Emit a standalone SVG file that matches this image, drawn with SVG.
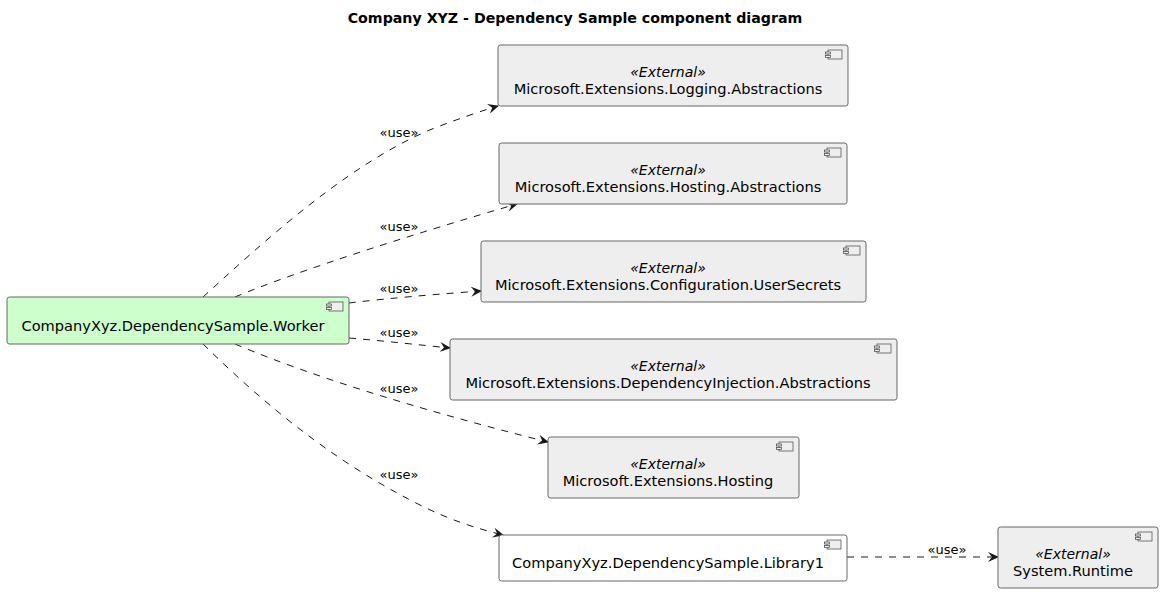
<svg xmlns="http://www.w3.org/2000/svg" width="1163" height="593" viewBox="0 0 1163 593">
<defs>
<style>
.box{fill:#EEEEEE;stroke:#666666;stroke-width:1;}
.ic{fill:#EEEEEE;stroke:#444444;stroke-width:0.7;}
.t{font-family:"DejaVu Sans",sans-serif;font-size:14.6px;fill:#000;text-anchor:middle;}
.st{font-family:"DejaVu Sans",sans-serif;font-size:14px;font-style:italic;fill:#000;text-anchor:middle;}
.lbl{font-family:"DejaVu Sans",sans-serif;font-size:13px;fill:#000;text-anchor:middle;}
.e{fill:none;stroke:#181818;stroke-width:1;stroke-dasharray:7,7;}
</style>
<marker id="ah" markerWidth="12" markerHeight="10" refX="10" refY="5" orient="auto" markerUnits="userSpaceOnUse">
<path d="M0,0 L11,5 L0,10 L4,5 Z" fill="#181818"/>
</marker>
<g id="icon"><rect x="0" y="0" width="14" height="9" class="ic"/><rect x="-2.5" y="2" width="5" height="2" class="ic"/><rect x="-2.5" y="5.5" width="5" height="2" class="ic"/></g>
</defs>
<rect width="1163" height="593" fill="#FFFFFF"/>
<text x="575" y="23" font-family="DejaVu Sans, sans-serif" font-size="14.2" font-weight="bold" text-anchor="middle">Company XYZ - Dependency Sample component diagram</text>

<g id="connectors">
<path class="e" d="M203,297 C255,250 345,165 432,129 C458,119 478,112 498,106" marker-end="url(#ah)"/>
<text class="lbl" x="399" y="137">«use»</text>
<path class="e" d="M235,297 C300,270 420,232 517,204" marker-end="url(#ah)"/>
<text class="lbl" x="399" y="231">«use»</text>
<path class="e" d="M349,303 C390,298 440,294 481,291" marker-end="url(#ah)"/>
<text class="lbl" x="399" y="293">«use»</text>
<path class="e" d="M349,338 C385,341 420,345 450,348" marker-end="url(#ah)"/>
<text class="lbl" x="399" y="337">«use»</text>
<path class="e" d="M235,344 C320,380 440,415 548,442" marker-end="url(#ah)"/>
<text class="lbl" x="399" y="393">«use»</text>
<path class="e" d="M203,344 C260,400 330,460 420,505 C450,520 475,528 503,535" marker-end="url(#ah)"/>
<text class="lbl" x="399" y="479">«use»</text>
<path class="e" d="M847,557 L998,557" marker-end="url(#ah)"/>
<text class="lbl" x="947" y="554">«use»</text>
</g>

<g id="worker">
<rect x="7" y="297" width="342" height="47" rx="2.5" fill="#CCFFCC" stroke="#666666"/>
<use href="#icon" x="329" y="302"/>
<text class="t" x="173" y="331">CompanyXyz.DependencySample.Worker</text>
</g>

<g id="logging">
<rect class="box" x="498" y="45" width="350" height="61" rx="2.5"/>
<use href="#icon" x="828" y="50"/>
<text class="st" x="668" y="77">«External»</text>
<text class="t" x="668" y="94">Microsoft.Extensions.Logging.Abstractions</text>
</g>

<g id="hostingAbstractions">
<rect class="box" x="499" y="143" width="348" height="61" rx="2.5"/>
<use href="#icon" x="827" y="148"/>
<text class="st" x="668" y="175">«External»</text>
<text class="t" x="668" y="192">Microsoft.Extensions.Hosting.Abstractions</text>
</g>

<g id="userSecrets">
<rect class="box" x="481" y="241" width="385" height="61" rx="2.5"/>
<use href="#icon" x="846" y="246"/>
<text class="st" x="668" y="273">«External»</text>
<text class="t" x="668" y="290">Microsoft.Extensions.Configuration.UserSecrets</text>
</g>

<g id="diAbstractions">
<rect class="box" x="450" y="339" width="447" height="61" rx="2.5"/>
<use href="#icon" x="877" y="344"/>
<text class="st" x="668" y="371">«External»</text>
<text class="t" x="668" y="388">Microsoft.Extensions.DependencyInjection.Abstractions</text>
</g>

<g id="hosting">
<rect class="box" x="548" y="437" width="251" height="61" rx="2.5"/>
<use href="#icon" x="779" y="442"/>
<text class="st" x="668" y="469">«External»</text>
<text class="t" x="668" y="486">Microsoft.Extensions.Hosting</text>
</g>

<g id="library1">
<rect x="499" y="535" width="348" height="46" rx="2.5" fill="#FFFFFF" stroke="#666666"/>
<use href="#icon" x="827" y="540"/>
<text class="t" x="668" y="568">CompanyXyz.DependencySample.Library1</text>
</g>

<g id="systemRuntime">
<rect class="box" x="998" y="527" width="160" height="61" rx="2.5"/>
<use href="#icon" x="1138" y="532"/>
<text class="st" x="1073" y="559">«External»</text>
<text class="t" x="1073" y="576">System.Runtime</text>
</g>
</svg>
